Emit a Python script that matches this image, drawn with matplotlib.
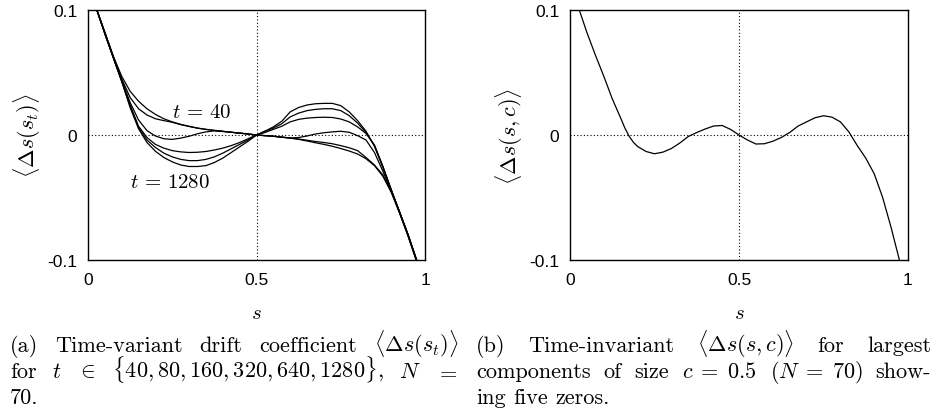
import matplotlib
matplotlib.use("Agg")
import matplotlib.pyplot as plt
import numpy as np

plt.rcParams['mathtext.fontset'] = 'cm'
plt.rcParams['axes.unicode_minus'] = False

# ---------------- data ----------------
s_grid = [0.025, 0.05, 0.075, 0.1, 0.125, 0.15, 0.175, 0.2, 0.225, 0.25,
          0.275, 0.3, 0.325, 0.35, 0.375, 0.4, 0.425, 0.45, 0.475, 0.5,
          0.525, 0.55, 0.575, 0.6, 0.625, 0.65, 0.675, 0.7, 0.725, 0.75,
          0.775, 0.8, 0.825, 0.85, 0.875, 0.9, 0.925, 0.95, 0.975]

t_values = [40, 80, 160, 320, 640, 1280]

drift_t40 = [0.101, 0.082, 0.063, 0.047, 0.035, 0.027, 0.021, 0.0165, 0.013, 0.0105,
             0.0085, 0.007, 0.0055, 0.0045, 0.0037, 0.003, 0.0022, 0.0015, 0.0008, 0.0,
             -0.0005, -0.001, -0.0018, -0.0025, -0.0035, -0.0048, -0.0062, -0.0075, -0.009, -0.0108,
             -0.0128, -0.0152, -0.019, -0.0245, -0.033, -0.046, -0.063, -0.081, -0.101]
drift_t80 = [0.101, 0.082, 0.063, 0.045, 0.030, 0.021, 0.016, 0.013, 0.0115, 0.0102,
             0.0083, 0.0068, 0.0055, 0.0045, 0.0036, 0.0029, 0.0022, 0.0015, 0.0008, 0.0,
             -0.0005, -0.001, -0.0017, -0.0024, -0.0032, -0.0042, -0.0052, -0.006, -0.007, -0.0085,
             -0.0102, -0.0125, -0.018, -0.024, -0.032, -0.045, -0.062, -0.081, -0.101]
drift_t160 = [0.101, 0.082, 0.062, 0.044, 0.026, 0.012, 0.0035, -0.0008, -0.003, -0.0035,
              -0.0025, -0.001, 0.001, 0.0025, 0.0033, 0.0028, 0.0022, 0.0015, 0.0008, 0.0,
              -0.0005, -0.001, -0.0017, -0.0024, -0.002, -0.0008, 0.0008, 0.0018, 0.0025, 0.003,
              0.0022, -0.0005, -0.004, -0.014, -0.029, -0.045, -0.062, -0.080, -0.100]
drift_t320 = [0.101, 0.081, 0.062, 0.043, 0.024, 0.007, -0.002, -0.0075, -0.0105, -0.0125,
              -0.0135, -0.014, -0.0138, -0.0132, -0.012, -0.0105, -0.0085, -0.006, -0.003, 0.0,
              0.002, 0.0045, 0.007, 0.0105, 0.0125, 0.0135, 0.014, 0.0142, 0.014, 0.0128,
              0.0105, 0.0065, 0.0012, -0.008, -0.025, -0.044, -0.062, -0.080, -0.100]
drift_t640 = [0.101, 0.081, 0.062, 0.043, 0.023, 0.006, -0.004, -0.010, -0.0145, -0.0175,
              -0.0195, -0.0205, -0.0205, -0.0195, -0.0175, -0.0145, -0.011, -0.0075, -0.004, 0.0,
              0.003, 0.0055, 0.009, 0.0145, 0.0175, 0.0195, 0.0205, 0.021, 0.021, 0.0195,
              0.0155, 0.0095, 0.002, -0.0085, -0.0255, -0.044, -0.062, -0.080, -0.100]
drift_t1280 = [0.101, 0.081, 0.062, 0.043, 0.022, 0.005, -0.006, -0.013, -0.018, -0.0215,
               -0.024, -0.0252, -0.0252, -0.0245, -0.022, -0.0185, -0.014, -0.0095, -0.005, 0.0,
               0.003, 0.0065, 0.011, 0.0185, 0.022, 0.024, 0.025, 0.0253, 0.0253, 0.0235,
               0.0185, 0.0115, 0.003, -0.009, -0.026, -0.044, -0.062, -0.080, -0.100]

s_grid_c = [0.025, 0.05, 0.075, 0.1, 0.125, 0.15, 0.1625, 0.175, 0.1875, 0.2, 0.225, 0.25,
            0.275, 0.3, 0.325, 0.35, 0.375, 0.4, 0.425, 0.45, 0.475, 0.5,
            0.525, 0.55, 0.575, 0.6, 0.625, 0.65, 0.675, 0.7, 0.725, 0.75,
            0.775, 0.8, 0.825, 0.85, 0.875, 0.9, 0.925, 0.95, 0.975]
drift_c05 = [0.102, 0.082, 0.064, 0.047, 0.029, 0.0135, 0.0055, -0.001, -0.0058, -0.0092, -0.0132, -0.015,
             -0.0137, -0.0108, -0.0064, -0.0012, 0.002, 0.0048, 0.0072, 0.0076, 0.0045, 0.0,
             -0.004, -0.0072, -0.007, -0.005, -0.002, 0.002, 0.0072, 0.0105, 0.0138, 0.0154,
             0.0143, 0.0105, 0.0025, -0.0085, -0.0185, -0.031, -0.050, -0.074, -0.1005]

x_ticks = [0, 0.5, 1]
x_ticklabels = ["0", "0.5", "1"]
y_ticks = [-0.1, 0, 0.1]
y_ticklabels = ["-0.1", "0", "0.1"]

left_ylabel = r"$\langle\Delta s(s_t)\rangle$"
right_ylabel = r"$\langle\Delta s(s,c)\rangle$"
xlabel = r"$s$"

# ---------------- figure ----------------
W, H = 933, 414
fig = plt.figure(figsize=(W / 100, H / 100), dpi=100)

ax1 = fig.add_axes([88 / W, (H - 261) / H, 337 / W, 250 / H])
ax2 = fig.add_axes([570 / W, (H - 261) / H, 338 / W, 250 / H])

curves = [drift_t40, drift_t80, drift_t160, drift_t320, drift_t640, drift_t1280]
for c in curves:
    ax1.plot(s_grid, c, color='black', lw=0.9)
ax2.plot(s_grid_c, drift_c05, color='black', lw=0.9)

for ax, yl in ((ax1, left_ylabel), (ax2, right_ylabel)):
    ax.set_xlim(0, 1)
    ax.set_ylim(-0.1, 0.1)
    ax.axhline(0, color='black', lw=0.8, ls=(0, (1, 2)), zorder=0)
    ax.axvline(0.5, color='black', lw=0.8, ls=(0, (1, 2)), zorder=0)
    ax.set_xticks(x_ticks)
    ax.set_xticklabels(x_ticklabels, family='Liberation Sans', fontsize=12.5)
    ax.set_yticks(y_ticks)
    ax.set_yticklabels(y_ticklabels, family='Liberation Sans', fontsize=12.5)
    ax.tick_params(length=0)
    ax.tick_params(axis='y', pad=7.7)
    ax.tick_params(axis='x', pad=8.4)
    for sp in ax.spines.values():
        sp.set_linewidth(1.0)
    ax.set_xlabel(xlabel, fontsize=15)
    ax.set_ylabel(yl, fontsize=16)

ax1.xaxis.set_label_coords(0.5, -(313 - 261) / 250)
ax2.xaxis.set_label_coords(0.5, -(313 - 261) / 250)
ax1.yaxis.set_label_coords(-(88 - 27) / 337, 0.5)
ax2.yaxis.set_label_coords(-(570 - 509) / 338, 0.5)
ax1.xaxis.label.set_va('center')
ax2.xaxis.label.set_va('center')
ax1.yaxis.label.set_va('center')
ax2.yaxis.label.set_va('center')

ax1.text(0.337, 0.0194, r"$t\,=\,40$", fontsize=15, ha='center', va='center')
ax1.text(0.243, -0.0366, r"$t\,=\,1280$", fontsize=15, ha='center', va='center')

# ---------------- captions ----------------
cap_size = 16
renderer = fig.canvas.get_renderer()


def place_line(words, x0, x1, ybase, justify=True):
    texts = [fig.text(0, (H - ybase) / H, w, fontsize=cap_size, family='cmr10',
                      ha='left', va='baseline') for w in words]
    widths = [t.get_window_extent(renderer).width for t in texts]
    if justify and len(words) > 1:
        gap = ((x1 - x0) - sum(widths)) / (len(words) - 1)
    else:
        gap = 0.33 * cap_size * 100 / 72
    pos = x0
    for t, w in zip(texts, widths):
        t.set_x(pos / W)
        pos += w + gap


place_line(["(a)", "Time-variant", "drift", "coefficient", r"$\langle\Delta s(s_t)\rangle$"], 10, 458, 352)
place_line(["for", r"$t$", r"$\in$", r"$\{40,80,160,320,640,1280\},$", r"$N$", r"$=$"], 10, 458, 378)
place_line(["70."], 10, 458, 404, justify=False)

place_line(["(b)", "Time-invariant", r"$\langle\Delta s(s,c)\rangle$", "for", "largest"], 476, 931, 352)
place_line(["components", "of", "size", r"$c\;=\;0.5$", r"$(N\;=\;70)$", "show-"], 476, 931, 378)
place_line(["ing", "five", "zeros."], 476, 931, 404, justify=False)

fig.savefig("out.png", dpi=100)
